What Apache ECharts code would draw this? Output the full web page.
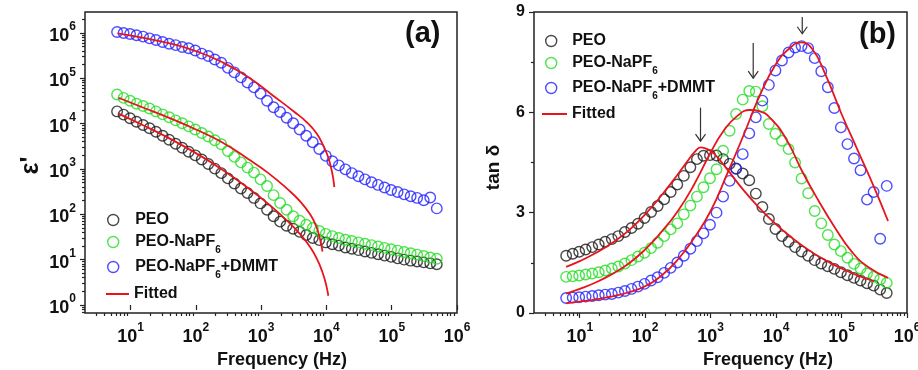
<!DOCTYPE html>
<html><head><meta charset="utf-8">
<script src="https://cdn.jsdelivr.net/npm/echarts@6/dist/echarts.min.js"></script>
<style>html,body{margin:0;padding:0;background:#fff}#c{width:918px;height:370px}</style>
</head><body><div id="c"></div>
<script>
// ---------- data ----------
const freq = [6.2, 7.8, 9.8, 12.3, 15.5, 19.5, 24.5, 30.9, 38.9, 49, 61.7, 77.6, 97.7, 123, 155, 195, 245, 309, 389, 490,
  617, 776, 977, 1230, 1550, 1950, 2450, 3090, 3890, 4900, 6170, 7760, 9770, 12300, 15500, 19500, 24500, 30900, 38900, 49000,
  61700, 77600, 97700, 123000, 155000, 195000, 245000, 309000, 389000, 490000];
const seriesNames = ['PEO', 'PEO-NaPF6', 'PEO-NaPF6+DMMT'];
// panel (a): epsilon'
const epsPEO = [18600, 15800, 13200, 11000, 9300, 7900, 6600, 5400, 4400, 3600, 2950, 2400, 2000, 1620, 1290, 1020, 810, 620, 480, 370,
  295, 230, 174, 126, 91, 69, 56, 48, 41, 35, 30, 27, 24, 21.9, 20.4, 18.6, 17.4, 16.2, 15.1, 14.1,
  13.2, 12.3, 11.5, 10.7, 10, 9.5, 9.1, 8.7, 8.3, 7.9];
const epsNa = [44000, 37000, 32000, 27500, 24500, 21500, 18600, 16000, 13800, 11800, 10200, 8700, 7400, 6200, 5200, 4300, 3500, 2500, 1850, 1400,
  1070, 830, 590, 420, 265, 178, 126, 91, 72, 59, 50, 43, 37, 33, 30, 27.5, 25.7, 24, 22.4, 20.9,
  19.5, 18.2, 17, 15.8, 14.8, 13.8, 12.9, 12, 11.2, 10.5];
const epsDMMT = [1.05e6, 1.0e6, 9.5e5, 8.9e5, 8.3e5, 7.6e5, 7.0e5, 6.3e5, 5.8e5, 5.4e5, 4.9e5, 4.6e5, 4.1e5, 3.5e5, 3.1e5, 2.6e5, 2.2e5, 1.7e5, 1.35e5, 1.05e5,
  8.1e4, 6.3e4, 4.6e4, 3.2e4, 2.3e4, 1.8e4, 1.35e4, 1.02e4, 7400, 5400, 3900, 2750, 1950, 1480, 1200, 980, 810, 690, 590, 510,
  445, 390, 345, 310, 275, 250, 230, 205, 235, 135];
// panel (a) fits
const fitA_PEO_f = [6.5, 15.8, 39.8, 100, 251, 631, 1260, 2510, 3980, 5620, 7240, 8710, 9770, 10700];
const fitA_PEO_v = [16600, 9120, 4680, 2240, 977, 380, 174, 72, 36, 19, 10, 5.2, 3.0, 1.6];
const fitA_Na_f = [6.5, 15.8, 39.8, 100, 251, 631, 1260, 2510, 3980, 5620, 6920, 7760, 8320, 8710];
const fitA_Na_v = [37200, 22400, 13200, 7410, 3890, 1660, 832, 363, 191, 100, 56, 33, 21.4, 15.1];
const fitA_DMMT_f = [6.3, 15.8, 39.8, 100, 251, 631, 1580, 3160, 5010, 7080, 8910, 10500, 11700, 12600, 13200];
const fitA_DMMT_v = [977000, 776000, 589000, 398000, 229000, 107000, 39800, 18600, 10700, 6030, 3310, 1910, 1100, 661, 398];
// panel (b): tan delta
const tanPEO = [1.71, 1.77, 1.83, 1.90, 1.97, 2.05, 2.13, 2.21, 2.30, 2.42, 2.54, 2.67, 2.84, 3.02, 3.20, 3.40, 3.62, 3.84, 4.10, 4.36,
  4.60, 4.70, 4.72, 4.71, 4.60, 4.46, 4.32, 4.17, 3.97, 3.57, 3.17, 2.81, 2.51, 2.30, 2.13, 1.97, 1.84, 1.71, 1.58, 1.48,
  1.40, 1.32, 1.22, 1.13, 1.05, 0.97, 0.89, 0.82, 0.70, 0.60];
const tanNa = [1.08, 1.10, 1.12, 1.15, 1.18, 1.22, 1.27, 1.33, 1.39, 1.48, 1.58, 1.69, 1.80, 1.94, 2.10, 2.30, 2.50, 2.68, 2.95, 3.21,
  3.48, 3.76, 4.03, 4.30, 4.85, 5.45, 5.95, 6.38, 6.64, 6.62, 6.18, 5.65, 5.36, 5.15, 4.90, 4.50, 4.02, 3.58, 3.05, 2.68,
  2.33, 2.05, 1.85, 1.65, 1.47, 1.33, 1.18, 1.08, 1.00, 0.90];
const tanDMMT = [0.45, 0.46, 0.47, 0.49, 0.51, 0.53, 0.55, 0.57, 0.61, 0.66, 0.72, 0.79, 0.87, 0.97, 1.07, 1.20, 1.35, 1.51, 1.71, 1.92,
  2.15, 2.38, 2.64, 3.00, 3.48, 3.95, 4.31, 4.75, 5.37, 5.85, 6.35, 6.82, 7.25, 7.55, 7.79, 7.94, 7.98, 7.92, 7.62, 7.23,
  6.75, 6.13, 5.55, 5.05, 4.62, 4.27, 3.39, 3.62, 2.22, 3.80];
// panel (b) fits
const fitB_PEO_f = [6.2, 10, 17.8, 31.6, 56.2, 100, 178, 316, 447, 562, 708, 891, 1120, 1780, 3160, 5620, 10000, 17800, 31600, 56200, 100000, 178000, 316000];
const fitB_PEO_v = [1.38, 1.55, 1.80, 2.10, 2.47, 2.95, 3.52, 4.15, 4.55, 4.80, 4.95, 4.90, 4.77, 4.30, 3.68, 3.13, 2.65, 2.24, 1.88, 1.58, 1.33, 1.12, 0.95];
const fitB_Na_f = [6.2, 10, 17.8, 31.6, 56.2, 100, 178, 316, 562, 1000, 1580, 2510, 3980, 5620, 7940, 14100, 25100, 44700, 79400, 141000, 251000, 513000];
const fitB_Na_v = [0.58, 0.72, 0.92, 1.17, 1.48, 1.90, 2.43, 3.05, 3.85, 4.80, 5.45, 5.88, 6.07, 6.03, 5.85, 5.22, 4.23, 3.35, 2.55, 1.85, 1.38, 1.05];
const fitB_DMMT_f = [6.2, 10, 17.8, 31.6, 56.2, 100, 178, 316, 562, 1000, 1780, 3160, 5620, 10000, 15800, 24000, 35500, 56200, 100000, 178000, 316000, 513000];
const fitB_DMMT_v = [0.29, 0.34, 0.41, 0.50, 0.62, 0.80, 1.12, 1.60, 2.25, 3.05, 4.15, 5.30, 6.50, 7.45, 7.90, 8.09, 7.90, 7.15, 5.95, 4.85, 3.75, 2.75];
// peak arrows in (b)
const arrowFreq = [700, 4470, 25100];
const arrowTop = [6.14, 8.07, 8.85];
const arrowBottom = [5.14, 7.02, 8.35];
// axes
const xMin = 2, xMax = 1e6;
const xTickExp = [1, 2, 3, 4, 5, 6];
const yMinA = 0.666, yMaxA = 2.9e6;
const yTickExpA = [0, 1, 2, 3, 4, 5, 6];

// ---------- build ----------
const colors = ['#1a1a1a', '#22dd22', '#2020ff'];
const red = '#e8141c';
const FONT = 'Arial, "Liberation Sans", sans-serif';
const zip = (a, b) => a.map((v, i) => [v, b[i]]);
function minorExps(lo, hi) {
  const out = [];
  for (let n = -1; n <= 6; n++) for (let k = 2; k <= 9; k++) {
    const v = n + Math.log10(k);
    if (v > lo + 1e-6 && v < hi - 1e-6) out.push(v);
  }
  return out;
}
const supRich = {
  b: { fontSize: 18, fontWeight: 'bold', fontFamily: FONT, color: '#111', lineHeight: 30 },
  s: { fontSize: 12, fontWeight: 'bold', fontFamily: FONT, color: '#111', verticalAlign: 'top', lineHeight: 12 }
};
const supFmt = v => '{b|10}{s|' + Math.round(v) + '}';
const legRich = {
  n: { fontSize: 16, fontWeight: 'bold', fontFamily: FONT, color: '#111', lineHeight: 26 },
  s: { fontSize: 10, fontWeight: 'bold', fontFamily: FONT, color: '#111', verticalAlign: 'bottom', lineHeight: 26 }
};
const legFmt = name => name === 'Fitted' ? '{n|Fitted}' :
  name.replace(/^(.*NaPF)6(.*)$/, (m, a, b) => '{n|' + a + '}{s|6}' + (b ? '{n|' + b + '}' : '')).replace(/^PEO$/, '{n|PEO}');
const tickLine = { color: '#222', width: 1.2 };
const lx = Math.log10(xMin), hx = Math.log10(xMax);
const lyA = Math.log10(yMinA), hyA = Math.log10(yMaxA);

function xAxesFor(gi, namePad) {
  return [
    { gridIndex: gi, type: 'log', logBase: 10, min: xMin, max: xMax, axisLine: { show: false }, axisTick: { show: false }, axisLabel: { show: false }, splitLine: { show: false } },
    { gridIndex: gi, type: 'value', position: 'bottom', min: lx, max: hx, axisLine: { show: false }, splitLine: { show: false },
      axisTick: { show: true, customValues: xTickExp, length: 5, lineStyle: tickLine },
      axisLabel: { show: true, customValues: xTickExp, margin: 9, formatter: supFmt, rich: supRich },
      name: 'Frequency (Hz)', nameLocation: 'middle', nameGap: 30,
      nameTextStyle: { fontSize: 18, fontWeight: 'bold', fontFamily: FONT, color: '#111', padding: namePad } },
    { gridIndex: gi, type: 'value', position: 'bottom', min: lx, max: hx, axisLine: { show: false }, splitLine: { show: false },
      axisTick: { show: true, customValues: minorExps(lx, hx), length: 3, lineStyle: tickLine }, axisLabel: { show: false } }
  ];
}

const xAxis = [...xAxesFor(0, [0, 0, 0, 22]), ...xAxesFor(1, [0, 0, 0, 95])];
const yAxis = [
  { gridIndex: 0, type: 'log', logBase: 10, min: yMinA, max: yMaxA, axisLine: { show: false }, axisTick: { show: false }, axisLabel: { show: false }, splitLine: { show: false } },
  { gridIndex: 0, type: 'value', position: 'left', min: lyA, max: hyA, axisLine: { show: false }, splitLine: { show: false },
    axisTick: { show: true, customValues: yTickExpA, length: 5, lineStyle: tickLine },
    axisLabel: { show: true, customValues: yTickExpA, margin: 9, formatter: supFmt, rich: supRich, padding: [6, 0, 0, 0] },
    name: "ε'", nameLocation: 'middle', nameRotate: 90, nameGap: 41,
    nameTextStyle: { fontSize: 25, fontWeight: 'bold', fontFamily: FONT, color: '#111', padding: [0, 6, 0, 0] } },
  { gridIndex: 0, type: 'value', position: 'left', min: lyA, max: hyA, axisLine: { show: false }, splitLine: { show: false },
    axisTick: { show: true, customValues: minorExps(lyA, hyA), length: 3, lineStyle: tickLine }, axisLabel: { show: false } },
  { gridIndex: 1, type: 'value', position: 'left', min: 0, max: 9, interval: 3, axisLine: { show: false }, splitLine: { show: false },
    axisTick: { show: true, length: 5, lineStyle: tickLine },
    minorTick: { show: true, splitNumber: 2, length: 3, lineStyle: tickLine },
    axisLabel: { margin: 9, fontSize: 16, fontWeight: 'bold', fontFamily: FONT, color: '#111' },
    name: 'tan δ', nameLocation: 'middle', nameRotate: 90, nameGap: 31,
    nameTextStyle: { fontSize: 19, fontWeight: 'bold', fontFamily: FONT, color: '#111', padding: [0, 10, 0, 0] } }
];

const series = [];
function scatter(name, xi, yi, ys, col) {
  series.push({ name, type: 'scatter', xAxisIndex: xi, yAxisIndex: yi, data: zip(freq, ys), symbol: 'circle', symbolSize: 10.5,
    itemStyle: { color: 'transparent', borderColor: col, borderWidth: 1.4 }, z: 2, silent: true });
}
function fit(xi, yi, f, v) {
  series.push({ name: 'Fitted', type: 'line', xAxisIndex: xi, yAxisIndex: yi, data: zip(f, v), symbol: 'none', showSymbol: false, smooth: 0.5,
    lineStyle: { color: red, width: 1.8 }, itemStyle: { color: red }, z: 4, silent: true });
}
[epsPEO, epsNa, epsDMMT].forEach((d, i) => scatter(seriesNames[i], 0, 0, d, colors[i]));
[tanPEO, tanNa, tanDMMT].forEach((d, i) => scatter(seriesNames[i], 3, 3, d, colors[i]));
fit(0, 0, fitA_PEO_f, fitA_PEO_v); fit(0, 0, fitA_Na_f, fitA_Na_v); fit(0, 0, fitA_DMMT_f, fitA_DMMT_v);
fit(3, 3, fitB_PEO_f, fitB_PEO_v); fit(3, 3, fitB_Na_f, fitB_Na_v); fit(3, 3, fitB_DMMT_f, fitB_DMMT_v);
series.push({
  type: 'custom', xAxisIndex: 3, yAxisIndex: 3, silent: true, z: 5,
  data: arrowFreq.map((f, i) => [f, arrowTop[i], arrowBottom[i]]),
  encode: { x: 0, y: [1, 2] },
  renderItem: (params, api) => {
    const p1 = api.coord([api.value(0), api.value(1)]);
    const p2 = api.coord([api.value(0), api.value(2)]);
    const st = { stroke: '#333', lineWidth: 1.2, fill: null };
    return { type: 'group', children: [
      { type: 'line', shape: { x1: p1[0], y1: p1[1], x2: p2[0], y2: p2[1] }, style: st },
      { type: 'polyline', shape: { points: [[p2[0] - 5, p2[1] - 7], [p2[0], p2[1]], [p2[0] + 5, p2[1] - 7]] }, style: st }
    ] };
  }
});

function legendItem(name, left, centerY, w, isLine) {
  return { show: true, data: [isLine ? { name, icon: 'rect' } : name], left, top: centerY - 7, orient: 'vertical', padding: 0,
    itemWidth: w, itemHeight: isLine ? 2 : 11,
    selectedMode: false, formatter: legFmt, textStyle: { rich: legRich, color: '#111' },
    itemStyle: isLine ? { color: red, borderWidth: 0 } : { borderWidth: 1.4 } };
}
const legend = [
  legendItem('PEO', 107, 219, 34), legendItem('PEO-NaPF6', 107, 241, 34), legendItem('PEO-NaPF6+DMMT', 107, 266, 34), legendItem('Fitted', 106, 293, 23, true),
  legendItem('PEO', 545, 40, 32), legendItem('PEO-NaPF6', 545, 62, 32), legendItem('PEO-NaPF6+DMMT', 545, 87, 32), legendItem('Fitted', 542, 113, 25, true)
];

const chart = echarts.init(document.getElementById('c'), null, { renderer: 'canvas' });
chart.setOption({
  animation: false,
  backgroundColor: '#fff',
  grid: [
    { left: 85, top: 12, width: 372, height: 301, show: true, borderColor: '#222', borderWidth: 1.5, backgroundColor: 'transparent', containLabel: false, outerBoundsMode: 'none' },
    { left: 534, top: 12, width: 373, height: 301, show: true, borderColor: '#222', borderWidth: 1.5, backgroundColor: 'transparent', containLabel: false, outerBoundsMode: 'none' }
  ],
  xAxis, yAxis, legend, series,
  graphic: [
    { type: 'text', left: 405, top: 19, style: { text: '(a)', font: 'bold 29px ' + FONT, fill: '#111' } },
    { type: 'text', left: 859, top: 20, style: { text: '(b)', font: 'bold 29px ' + FONT, fill: '#111' } }
  ]
});
</script>
</body></html>
